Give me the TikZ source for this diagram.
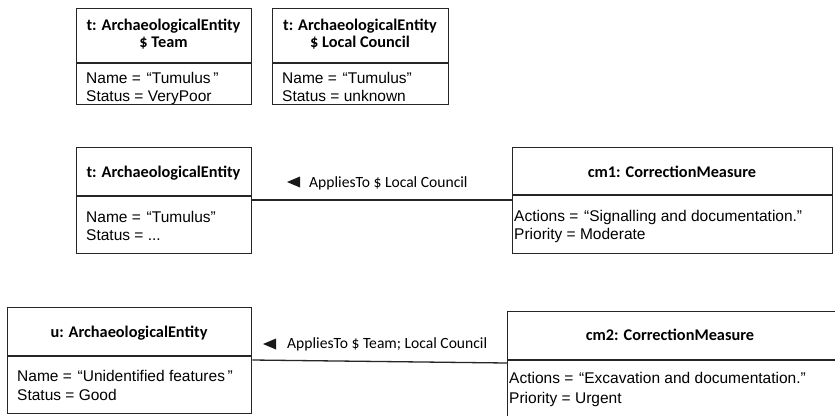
\documentclass[tikz,border=0pt]{standalone}
\usepackage{fontspec}
\setmainfont{Liberation Sans}
\newfontfamily\hdrfont{Carlito}
\newcommand\opq{\ \kern1.5bp“}
\begin{document}
\begin{tikzpicture}[x=1bp,y=-1bp,
  objbox/.style={draw=black!85,line width=1.4bp,anchor=north west,inner sep=0pt,fill=none},
  divline/.style={draw=black!85,line width=1.4bp},
  link/.style={draw=black!85,line width=1.3bp},
  hdr/.style={anchor=base,inner sep=0pt,font=\hdrfont\bfseries\fontsize{16.3bp}{17bp}\selectfont},
  attr/.style={anchor=base west,inner sep=0pt,font=\fontsize{15.5bp}{18bp}\selectfont},
  rolelbl/.style={anchor=base west,inner sep=0pt,font=\hdrfont\fontsize{15.6bp}{18bp}\selectfont},
  dirmark/.style={fill=black!90}]
\clip (0,0) rectangle (835,415);
\fill[white] (0,0) rectangle (835,415);

% t as seen by the Team
\node[objbox,minimum width=175bp,minimum height=96bp] (tTeam) at (76,8) {};
\draw[divline] (76,63) -- (251,63);
\node[hdr] (tTeamH1) at (163.5,30) {t: ArchaeologicalEntity};
\node[hdr] (tTeamH2) at (163.5,47) {\$ Team};
\node[attr] (tTeamA1) at (86,83) {Name =\opq Tumulus\,”};
\node[attr] (tTeamA2) at (86,101) {Status = VeryPoor};

% t as seen by the Local Council
\node[objbox,minimum width=176bp,minimum height=96bp] (tLC) at (272,8) {};
\draw[divline] (272,63) -- (448,63);
\node[hdr] (tLCH1) at (360,30) {t: ArchaeologicalEntity};
\node[hdr] (tLCH2) at (360,47) {\$ Local Council};
\node[attr] (tLCA1) at (282,83) {Name =\opq Tumulus”};
\node[attr] (tLCA2) at (282,101) {Status = unknown};

% merged t
\node[objbox,minimum width=175bp,minimum height=106bp] (t) at (76,147) {};
\draw[divline] (76,196) -- (251,196);
\node[hdr] (tH) at (163.5,177) {t: ArchaeologicalEntity};
\node[attr] (tA1) at (86,222.5) {Name =\opq Tumulus”};
\node[attr] (tA2) at (86,240.5) {Status = ...};

% cm1
\node[objbox,minimum width=320bp,minimum height=106bp] (cmA) at (512,147) {};
\draw[divline] (512,195) -- (832,195);
\node[hdr] (cmAH) at (672,177) {cm1: CorrectionMeasure};
\node[attr] (cmAA1) at (514,221) {Actions =\opq Signalling and documentation.”};
\node[attr] (cmAA2) at (514,239.5) {Priority = Moderate};

% u
\node[objbox,minimum width=244bp,minimum height=106bp] (u) at (7,307) {};
\draw[divline] (7,356) -- (251,356);
\node[hdr] (uH) at (129,337) {u: ArchaeologicalEntity};
\node[attr] (uA1) at (17,381.5) {Name =\opq Unidentified features\,”};
\node[attr] (uA2) at (17,400) {Status = Good};

% cm2 (runs past the right and bottom edges)
\node[objbox,minimum width=345bp,minimum height=125bp] (cmB) at (507,311) {};
\draw[divline] (507,360) -- (852,360);
\node[hdr] (cmBH) at (670,340) {cm2: CorrectionMeasure};
\node[attr] (cmBA1) at (509,383.5) {Actions =\opq Excavation and documentation.”};
\node[attr] (cmBA2) at (509,403.5) {Priority = Urgent};

% links
\draw[link] (t.east |- 0,200) -- (cmA.west |- 0,200);
\draw[link] (u.east |- 0,360) -- (cmB.west |- 0,363);

% link labels with reading direction
\fill[dirmark] (287,182) -- (300,176.5) -- (300,187.5) -- cycle;
\node[rolelbl] (lblA) at (309,187) {AppliesTo \$ Local Council};
\fill[dirmark] (263,344) -- (276,338.5) -- (276,349.5) -- cycle;
\node[rolelbl] (lblB) at (287,348.5) {AppliesTo \$ Team; Local Council};
\end{tikzpicture}
\end{document}
